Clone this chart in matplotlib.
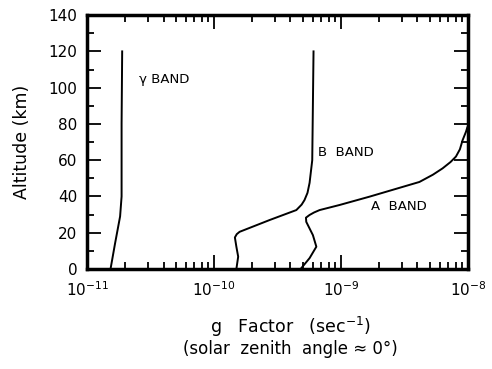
import numpy as np
import matplotlib.pyplot as plt
from matplotlib.ticker import MultipleLocator, FixedLocator, NullFormatter

# gamma band
alt_gamma = [0, 14, 29, 40, 80, 120]
g_gamma = [1.53e-11, 1.66e-11, 1.82e-11, 1.87e-11, 1.87e-11, 1.89e-11]

# B band
alt_B = [0, 6.8, 12.3, 17.4, 19.2, 20.5, 27, 32.5, 35.5, 38, 42, 47.5, 60, 120]
g_B = [1.50e-10, 1.55e-10, 1.50e-10, 1.46e-10, 1.51e-10, 1.59e-10, 2.74e-10,
       4.45e-10, 4.90e-10, 5.16e-10, 5.45e-10, 5.66e-10, 5.94e-10, 6.08e-10]

# A band
alt_A = [0, 6, 12.3, 18.7, 26, 28.3, 29.8, 31.2, 32.5, 35.3, 39.9, 48, 52, 55.5,
         59, 62, 66, 71, 75.7, 78]
g_A = [4.81e-10, 5.66e-10, 6.40e-10, 6.01e-10, 5.33e-10, 5.30e-10, 5.66e-10,
       6.15e-10, 6.79e-10, 9.75e-10, 1.68e-9, 4.15e-9, 5.30e-9, 6.32e-9,
       7.30e-9, 8.05e-9, 8.65e-9, 9.08e-9, 9.66e-9, 9.89e-9]

decades = [1e-11, 1e-10, 1e-9, 1e-8]
decade_labels = ['$10^{-11}$', '$10^{-10}$', '$10^{-9}$', '$10^{-8}$']

plt.rcParams['font.family'] = 'DejaVu Sans'

fig = plt.figure(figsize=(4.92, 3.69), dpi=100)
ax = fig.add_axes([0.177, 0.271, 0.774, 0.688])

for g, a in [(g_gamma, alt_gamma), (g_B, alt_B), (g_A, alt_A)]:
    ax.plot(g, a, color='black', lw=1.4)

ax.text(10**-10.59, 104.7, 'γ BAND', fontsize=9.5, va='center', ha='left')
ax.text(10**-9.184, 64.5, 'B  BAND', fontsize=9.5, va='center', ha='left')
ax.text(10**-8.76, 34.7, 'A  BAND', fontsize=9.5, va='center', ha='left')

ax.set_xscale('log')
ax.set_xlim(1e-11, 1e-8)
ax.set_ylim(0, 140)
ax.yaxis.set_major_locator(MultipleLocator(20))
ax.yaxis.set_minor_locator(MultipleLocator(10))
ax.xaxis.set_major_locator(FixedLocator(decades))
ax.set_xticklabels(decade_labels)
minors = [m * d for d in decades[:-1] for m in range(2, 10)]
ax.xaxis.set_minor_locator(FixedLocator(minors))
ax.xaxis.set_minor_formatter(NullFormatter())

for s in ax.spines.values():
    s.set_linewidth(2.5)
ax.tick_params(which='both', direction='in', top=True, right=True, width=1.3)
ax.tick_params(which='major', length=10, labelsize=11)
ax.tick_params(axis='y', which='major', pad=7)
ax.tick_params(axis='x', which='major', pad=8)
ax.tick_params(which='minor', length=5)

ax.set_ylabel('Altitude (km)', fontsize=12.5, va='center')
ax.yaxis.set_label_coords(-0.17, 0.5)
fig.text(0.59, 0.114, 'g   Factor   (sec$^{-1}$)', fontsize=12.5, ha='center', va='center')
fig.text(0.59, 0.054, '(solar  zenith  angle \u2248 0°)', fontsize=12, ha='center', va='center')

fig.savefig('out.png', dpi=100)
